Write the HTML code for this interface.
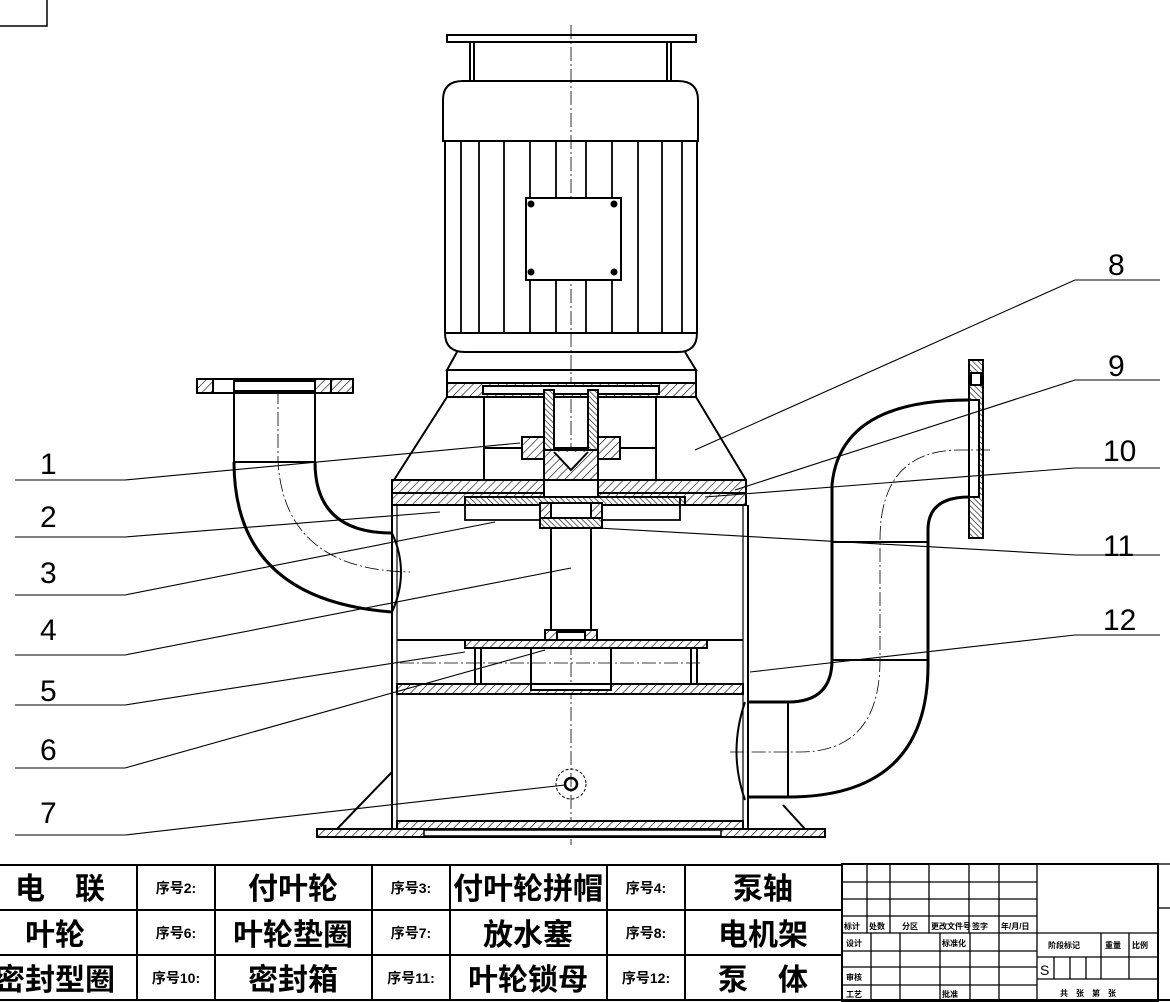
<!DOCTYPE html>
<html><head><meta charset="utf-8"><style>
html,body{margin:0;padding:0;background:#fff}
svg{display:block}
text{font-family:"Liberation Sans","Noto Sans CJK SC",sans-serif;fill:#000}
.cn{font-family:"Liberation Serif","Noto Serif CJK SC","Noto Sans CJK SC",serif;font-weight:bold}
</style></head><body>
<svg width="1170" height="1002" viewBox="0 0 1170 1002" xmlns="http://www.w3.org/2000/svg">
<defs>
<pattern id="h" width="6" height="6" patternUnits="userSpaceOnUse" patternTransform="rotate(45)">
<rect width="6" height="6" fill="#fff"/><line x1="0" y1="0" x2="0" y2="6" stroke="#000" stroke-width="1.2"/></pattern>
<pattern id="h2" width="4" height="4" patternUnits="userSpaceOnUse" patternTransform="rotate(-45)">
<rect width="4" height="4" fill="#fff"/><line x1="0" y1="0" x2="0" y2="4" stroke="#000" stroke-width="1.2"/></pattern>
</defs>
<g fill="none" stroke="#000" stroke-width="2">
<!-- corner frame -->
<path d="M0 26 H47 V0" stroke-width="1.5"/>
<!-- centerline -->
<line x1="571" y1="25" x2="571" y2="845" stroke-width="0.8" stroke-dasharray="14,3,2,3"/>
<!-- motor -->
<rect x="447" y="35" width="249" height="7"/>
<line x1="470" y1="42" x2="470" y2="82"/><line x1="474" y1="42" x2="474" y2="82"/>
<line x1="667" y1="42" x2="667" y2="82"/><line x1="671" y1="42" x2="671" y2="82"/>
<path d="M443 141 V100 Q443 81 463 81 H678 Q698 81 698 100 V141 Z"/>
<path d="M445 141 V333 Q445 352 465 352 H678 Q697 352 697 333 V141"/>
<line x1="445" y1="333" x2="697" y2="333"/>
<g stroke-width="1.8">
<line x1="461" y1="141" x2="461" y2="333"/><line x1="479" y1="141" x2="479" y2="333"/>
<line x1="504" y1="141" x2="504" y2="333"/><line x1="530" y1="141" x2="530" y2="333"/>
<line x1="556" y1="141" x2="556" y2="198"/><line x1="556" y1="280" x2="556" y2="333"/>
<line x1="586" y1="141" x2="586" y2="198"/><line x1="586" y1="280" x2="586" y2="333"/>
<line x1="612" y1="141" x2="612" y2="333"/><line x1="638" y1="141" x2="638" y2="333"/>
<line x1="662" y1="141" x2="662" y2="333"/><line x1="682" y1="141" x2="682" y2="333"/>
</g>
<rect x="526" y="198" width="95" height="82" fill="#fff"/>
<g fill="#000"><circle cx="531" cy="204" r="2.5"/><circle cx="614" cy="204" r="2.5"/><circle cx="531" cy="272" r="2.5"/><circle cx="614" cy="272" r="2.5"/></g>
<path d="M457 352 L447 370 H696 L685 352"/>
<rect x="447" y="370" width="249" height="13"/>
<rect x="447" y="383" width="249" height="14" fill="url(#h)"/>
<rect x="483" y="386" width="176" height="8" fill="#fff"/>
<!-- cone frame -->
<path d="M447 397 L394 480 M696 397 L746 480"/>
<line x1="484" y1="397" x2="484" y2="480"/><line x1="656" y1="397" x2="656" y2="480"/>
<line x1="484" y1="448" x2="656" y2="448"/>
<!-- coupling -->
<rect x="544" y="390" width="10" height="60" fill="url(#h2)"/>
<rect x="588" y="390" width="10" height="60" fill="url(#h2)"/>
<rect x="522" y="437" width="22" height="22" fill="url(#h)"/>
<rect x="598" y="437" width="22" height="22" fill="url(#h)"/>
<path d="M544 450 H598 V480 H544 Z" fill="url(#h)"/>
<path d="M554 452 L571 470 L588 452" fill="#fff"/>
<!-- top plate -->
<rect x="392" y="480" width="354" height="13" fill="url(#h)"/>
<rect x="392" y="493" width="354" height="12" fill="url(#h)"/>
<rect x="544" y="480" width="54" height="25" fill="#fff"/>
<rect x="465" y="497" width="220" height="8" fill="url(#h2)"/>
<path d="M465 505 V520 H544 M598 520 H680 V497" stroke-width="1.8"/>
<rect x="540" y="503" width="62" height="16" fill="url(#h)"/>
<rect x="551" y="503" width="40" height="16" fill="#fff"/>
<rect x="540" y="518" width="62" height="10" fill="url(#h2)"/>
<!-- shaft -->
<rect x="551" y="528" width="40" height="102" fill="#fff"/>
<!-- body walls -->
<line x1="392" y1="505" x2="392" y2="829"/><line x1="397" y1="505" x2="397" y2="829" stroke-width="1.2"/>
<line x1="748" y1="505" x2="748" y2="829"/><line x1="743" y1="505" x2="743" y2="829" stroke-width="1.2"/>
<!-- impeller -->
<rect x="545" y="630" width="52" height="14" fill="url(#h)"/>
<rect x="557" y="632" width="28" height="10" fill="#fff"/>
<rect x="465" y="640" width="242" height="8" fill="url(#h)"/>
<path d="M475 648 V684 M697 648 V684 M481 648 V684 M691 648 V684"/>
<rect x="531" y="648" width="80" height="36"/>
<line x1="397" y1="640" x2="465" y2="640"/><line x1="707" y1="640" x2="743" y2="640"/>
<line x1="400" y1="663" x2="700" y2="663" stroke-width="0.8" stroke-dasharray="14,3,2,3"/>
<rect x="397" y="684" width="346" height="10" fill="url(#h)"/>
<rect x="531" y="684" width="80" height="6" fill="#fff"/>
<!-- bottom -->
<rect x="397" y="821" width="346" height="8" fill="url(#h)"/>
<rect x="317" y="829" width="508" height="8" fill="url(#h)"/>
<rect x="424" y="830" width="297" height="6" fill="#fff" stroke-width="1.5"/>
<path d="M392 772 L337 829 M783 805 L805 829"/>
<circle cx="571" cy="784" r="6" stroke-width="2.5"/>
<circle cx="571" cy="784" r="15" stroke-width="1" stroke-dasharray="3,2"/>
<!-- left pipe -->
<rect x="197" y="379" width="156" height="14" fill="url(#h)"/>
<rect x="213" y="379" width="24" height="14" fill="#fff"/><rect x="311" y="379" width="20" height="14" fill="url(#h)"/>
<rect x="234" y="381" width="81" height="10" fill="#fff"/>
<path d="M234 393 V462 M315 393 V462 M234 462 H315" />
<path d="M234 462 Q234 600 392 612" stroke-width="3"/>
<path d="M315 462 Q315 533 392 533" stroke-width="3"/>
<path d="M392 533 Q410 572 392 612"/>
<path d="M278 390 V462 Q285 570 410 572" stroke-width="0.8" stroke-dasharray="14,3,2,3"/>
<!-- right pipe -->
<rect x="969" y="360" width="14" height="178" fill="url(#h2)"/>
<rect x="971" y="373" width="10" height="12" fill="#fff"/>
<line x1="969" y1="400" x2="969" y2="497" stroke-width="2"/>
<rect x="969" y="400" width="10" height="97" fill="#fff"/>
<path d="M832 542 V485 Q840 400 969 400" stroke-width="3"/>
<path d="M928 542 V530 Q928 497 969 497" stroke-width="3"/>
<path d="M832 542 V660 Q832 702 788 702 H748" stroke-width="3"/>
<path d="M928 542 V665 Q928 797 788 797 H748" stroke-width="3"/>
<path d="M832 542 H928 M832 660 H928"/>
<line x1="788" y1="702" x2="788" y2="797"/>
<path d="M745 702 Q728 752 745 800"/>
<path d="M990 450 H960 Q880 450 880 540 V660 Q880 752 800 752 H730" stroke-width="0.8" stroke-dasharray="14,3,2,3"/>
</g>
<!-- leaders -->
<g fill="none" stroke="#000" stroke-width="1.1">
<path d="M15 480 H125 L520 443"/>
<path d="M15 537 H125 L440 512"/>
<path d="M15 595 H125 L495 522"/>
<path d="M15 655 H125 L571 568"/>
<path d="M15 705 H125 L465 652"/>
<path d="M15 768 H125 L545 650"/>
<path d="M15 835 H125 L565 785"/>
<path d="M1160 280 H1075 L695 450"/>
<path d="M1160 380 H1075 L735 490"/>
<path d="M1160 468 H1075 L705 497"/>
<path d="M1160 555 H1075 L598 528"/>
<path d="M1160 635 H1075 L750 672"/>
</g>
<g font-size="30" style="font-family:'DejaVu Sans',sans-serif;font-weight:200">
<text x="40" y="474">1</text><text x="40" y="527">2</text><text x="40" y="583">3</text>
<text x="40" y="640">4</text><text x="40" y="701">5</text><text x="40" y="760">6</text><text x="40" y="823">7</text>
<text x="1108" y="275">8</text><text x="1108" y="376">9</text><text x="1103" y="461">10</text>
<text x="1103" y="556">11</text><text x="1103" y="630">12</text>
</g>
<!-- parts table -->
<g fill="none" stroke="#000" stroke-width="2">
<line x1="0" y1="865" x2="842" y2="865"/><line x1="0" y1="910" x2="842" y2="910"/>
<line x1="0" y1="955" x2="842" y2="955"/><line x1="0" y1="1000" x2="1170" y2="1000"/>
<line x1="137" y1="865" x2="137" y2="1000"/><line x1="215" y1="865" x2="215" y2="1000"/>
<line x1="372" y1="865" x2="372" y2="1000"/><line x1="450" y1="865" x2="450" y2="1000"/>
<line x1="607" y1="865" x2="607" y2="1000"/><line x1="685" y1="865" x2="685" y2="1000"/>
</g>
<g class="cn" font-size="30" text-anchor="middle">
<text x="60" y="899">电　联</text><text x="293" y="899">付叶轮</text><text x="528" y="899">付叶轮拼帽</text><text x="763" y="899">泵轴</text>
<text x="55" y="945">叶轮</text><text x="293" y="945">叶轮垫圈</text><text x="528" y="945">放水塞</text><text x="763" y="945">电机架</text>
<text x="55" y="990">密封型圈</text><text x="293" y="990">密封箱</text><text x="528" y="990">叶轮锁母</text><text x="763" y="990">泵　体</text>
</g>
<g class="cn" font-size="14" text-anchor="middle">
<text x="176" y="893">序号2:</text><text x="411" y="893">序号3:</text><text x="646" y="893">序号4:</text>
<text x="176" y="938">序号6:</text><text x="411" y="938">序号7:</text><text x="646" y="938">序号8:</text>
<text x="176" y="983">序号10:</text><text x="411" y="983">序号11:</text><text x="646" y="983">序号12:</text>
</g>
<!-- title block -->
<g fill="none" stroke="#000" stroke-width="1.3">
<rect x="842" y="864" width="316" height="138" stroke-width="2"/>
<line x1="1158" y1="908" x2="1170" y2="908"/><line x1="1158" y1="864" x2="1170" y2="864"/>
<path d="M842 882 H1037 M842 899 H1037 M842 916 H1037 M842 933 H1158 M842 951 H1037 M842 967 H1037 M842 985 H1037 M1037 957 H1158 M1037 979 H1158"/>
<path d="M1037 864 V1002 M867 864 V933 M890 864 V933 M929 864 V933 M969 864 V933 M999 864 V933"/>
<path d="M871 933 V1002 M900 933 V1002 M940 933 V1002 M970 933 V1002 M999 933 V1002"/>
<path d="M1101 933 V979 M1129 933 V979 M1054 957 V979 M1070 957 V979 M1086 957 V979"/>
</g>
<g class="cn" font-size="8">
<text x="844" y="929">标计</text><text x="869" y="929">处数</text><text x="902" y="929">分区</text><text x="931" y="929">更改文件号</text><text x="972" y="929">签字</text><text x="1001" y="929">年/月/日</text>
<text x="846" y="946">设计</text><text x="942" y="946">标准化</text><text x="1048" y="948">阶段标记</text><text x="1105" y="948">重量</text><text x="1132" y="948">比例</text>
<text x="846" y="980">审核</text><text x="846" y="997">工艺</text><text x="942" y="997">批准</text><text x="1060" y="996">共　张　第　张</text>
</g>
<text x="1040" y="975" font-size="14">S</text>
</svg>
</body></html>
